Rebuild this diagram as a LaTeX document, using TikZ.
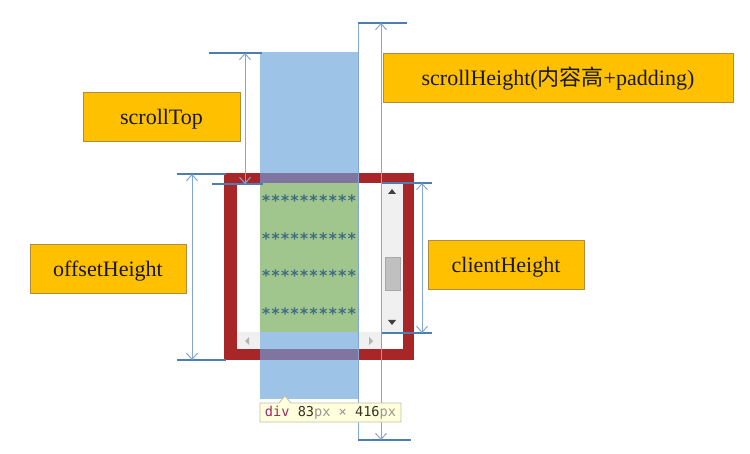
\documentclass[tikz,border=0pt]{standalone}
\usepackage{fontspec}
\setmainfont{Liberation Serif}
\newfontfamily\cjk{Noto Sans CJK SC}
\newfontfamily\monof{DejaVu Sans Mono}
\usetikzlibrary{arrows.meta}
\definecolor{scrollblue}{RGB}{157,195,230}
\definecolor{boxred}{RGB}{168,38,40}
\definecolor{overlap}{RGB}{128,116,160}
\definecolor{contentgreen}{RGB}{160,198,142}
\definecolor{track}{RGB}{240,240,240}
\definecolor{thumb}{RGB}{192,192,192}
\definecolor{thumbborder}{RGB}{168,168,168}
\definecolor{starcol}{RGB}{64,108,130}
\definecolor{dimcol}{RGB}{130,168,210}
\definecolor{tickcol}{RGB}{80,125,175}
\definecolor{labelfill}{RGB}{255,192,0}
\definecolor{labeldraw}{RGB}{176,140,60}
\definecolor{tipfill}{RGB}{255,255,220}
\definecolor{tipdraw}{RGB}{190,190,170}
\definecolor{divtag}{RGB}{160,40,100}
\definecolor{dimdark}{RGB}{50,50,40}
\definecolor{pxgray}{RGB}{150,150,150}
\tikzset{
  labelbox/.style={draw=labeldraw, line width=0.8pt, fill=labelfill, minimum height=49pt,
    inner sep=0pt, text height=20pt, text depth=3pt,
    font=\fontsize{22}{26}\selectfont, text=black!90},
  dimline/.style={draw=dimcol, line width=1pt, {Straight Barb[length=6pt,width=11pt]}-{Straight Barb[length=6pt,width=11pt]}},
  plainline/.style={draw=dimcol, line width=1pt},
  tickline/.style={draw=tickcol, line width=1.6pt},
  starrow/.style={font=\monof\bfseries\fontsize{15.8}{16}\selectfont, text=starcol, inner sep=0pt, anchor=base},
}
\begin{document}
\begin{tikzpicture}[x=1pt,y=-1pt]
\useasboundingbox (0,0) rectangle (750,454);
\fill[white] (0,0) rectangle (750,454);
% box and scrolled content
\fill[boxred] (224,173) rectangle (414,360);
\fill[white] (237,183) rectangle (403,349);
\fill[scrollblue] (260,52) rectangle (358,399);
\fill[overlap] (260,173) rectangle (358,183);
\fill[overlap] (260,349) rectangle (358,360);
\fill[contentgreen] (260,183) rectangle (358,332);
% scrollbars
\fill[track] (237,332) rectangle (260,349);
\fill[track] (358,332) rectangle (382,349);
\fill[track] (382,183) rectangle (403,332);
\filldraw[fill=thumb, draw=thumbborder, line width=0.6pt] (385,257) rectangle (400,290);
\fill[black!75] (388,194) -- (396,194) -- (392,189) -- cycle;
\fill[black!75] (388,320) -- (396,320) -- (392,325) -- cycle;
\fill[black!30] (249,337) -- (249,345) -- (245,341) -- cycle;
\fill[black!30] (369,337) -- (369,345) -- (373,341) -- cycle;
% star rows
\node[starrow] (r1) at (309,207) {**********};
\node[starrow] (r2) at (309,245) {**********};
\node[starrow] (r3) at (309,282) {**********};
\node[starrow] (r4) at (309,320) {**********};
% scrollTop dimension
\coordinate (stT) at (245,53);
\coordinate (stB) at (245,184);
\coordinate (stT1) at (209,53); \coordinate (stT2) at (262,53);
\coordinate (stB1) at (212,184); \coordinate (stB2) at (263,184);
\draw[tickline] (stT1) -- (stT2);
\draw[tickline] (stB1) -- (stB2);
\draw[dimline] (stT) -- (stB);
% offsetHeight dimension
\coordinate (ohT) at (192,174);
\coordinate (ohB) at (192,360);
\coordinate (ohT1) at (177,174); \coordinate (ohT2) at (226,174);
\coordinate (ohB1) at (177,360); \coordinate (ohB2) at (226,360);
\draw[tickline] (ohT1) -- (ohT2);
\draw[tickline] (ohB1) -- (ohB2);
\draw[dimline] (ohT) -- (ohB);
% clientHeight dimension
\coordinate (chT) at (422,183);
\coordinate (chB) at (422,333);
\coordinate (chT1) at (382,183); \coordinate (chT2) at (432,183);
\coordinate (chB1) at (382,333); \coordinate (chB2) at (432,333);
\draw[tickline] (chT1) -- (chT2);
\draw[tickline] (chB1) -- (chB2);
\draw[dimline] (chT) -- (chB);
% scrollHeight dimension
\coordinate (shT) at (381,23);
\coordinate (shB) at (381,440);
\coordinate (shT1) at (358,23); \coordinate (shT2) at (407,23);
\coordinate (shB1) at (358,440); \coordinate (shB2) at (411,440);
\draw[plainline] (shT1) -- (shB1);
\draw[tickline] (shT1) -- (shT2);
\draw[tickline] (shB1) -- (shB2);
\draw[dimline] (shT) -- (shB);
% labels
\node[labelbox, minimum width=157pt] (lst) at (161.5,116.5) {scrollTop};
\node[labelbox, minimum width=156pt] (loh) at (108,268.5) {offsetHeight};
\node[labelbox, minimum width=350pt] (lsh) at (558,77.5) {scrollHeight({\cjk 内容高}+padding)};
\node[labelbox, minimum width=156pt] (lch) at (506,264.5) {clientHeight};
% tooltip
\filldraw[fill=tipfill, draw=tipdraw, line width=0.8pt]
  (260,403) -- (279,403) -- (285,396) -- (291,403) -- (401,403) -- (401,422) -- (260,422) -- cycle;
\node[inner sep=0pt, font=\monof\fontsize{13.6}{15}\selectfont] (tip) at (330.5,412.5)
  {\color{divtag}div \color{dimdark}83\color{pxgray}px × \color{dimdark}416\color{pxgray}px};
\end{tikzpicture}
\end{document}
